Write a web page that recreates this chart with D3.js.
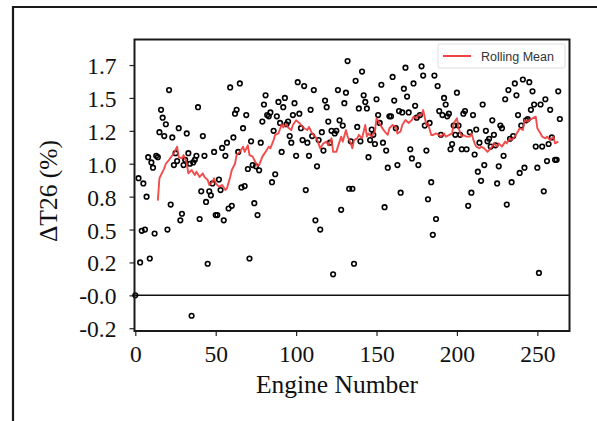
<!DOCTYPE html>
<html><head><meta charset="utf-8">
<script src="https://cdn.jsdelivr.net/npm/d3@7"></script>
<style>html,body{margin:0;padding:0;background:#fff;}svg{display:block;}</style>
</head><body>
<script>
const engines = [0,2,3,4,5,6,7,8,9,10,11,12,13,14,15,16,17,18,19,20,21,22,23,24,25,26,27,28,29,30,31,32,33,34,35,36,37,38,39,40,41,42,43,44,45,46,47,48,49,50,51,52,53,54,55,56,57,58,59,60,61,62,63,64,65,66,67,68,69,70,71,72,73,74,75,76,77,78,79,80,81,82,83,84,85,86,87,88,89,90,91,92,93,94,95,96,97,98,99,100,101,102,103,104,105,106,107,108,109,110,111,112,113,114,115,116,117,118,119,120,121,122,123,124,125,126,127,128,129,130,131,132,133,134,135,136,137,138,139,140,141,142,143,144,145,146,147,148,149,150,151,152,153,154,155,156,157,158,159,160,161,162,163,164,165,166,167,168,169,170,171,172,173,174,175,176,177,178,179,180,181,182,183,184,185,186,187,188,189,190,191,192,193,194,195,196,197,198,199,200,201,202,203,204,205,206,207,208,209,210,211,212,213,214,215,216,217,218,219,220,221,222,223,224,225,226,227,228,229,230,231,232,233,234,235,236,237,238,239,240,241,242,243,244,245,246,247,248,249,250,251,252,253,254,255,256,257,258,259,261,262,263,264];
const deltaT26 = [0.0,0.89,0.25,0.49,0.85,0.50,0.75,1.05,0.28,1.01,0.97,0.47,1.06,1.05,1.24,1.41,1.35,1.21,1.30,0.50,1.56,0.69,1.20,0.99,1.08,1.02,1.27,0.57,0.62,0.99,1.03,1.23,1.08,1.00,-0.155,1.01,1.03,1.06,1.43,0.58,0.79,1.21,1.06,0.71,0.24,0.79,0.76,0.85,1.09,0.61,0.61,0.88,0.80,1.12,0.57,1.06,1.16,0.66,1.58,0.68,1.20,1.38,1.41,1.09,1.61,0.82,1.27,0.83,1.37,0.96,0.28,1.17,0.99,0.70,0.98,0.61,0.95,1.16,1.32,1.45,1.52,1.37,1.36,1.39,0.86,1.25,0.92,1.36,1.47,1.31,1.09,1.43,1.50,1.30,1.32,1.21,1.16,1.37,1.46,1.06,1.62,1.38,1.27,1.18,1.59,0.80,1.16,1.06,1.41,1.21,1.56,0.57,0.98,1.18,0.50,1.24,1.10,1.48,1.43,1.32,1.16,1.25,0.16,1.23,1.25,1.56,1.33,0.65,1.29,1.46,1.54,1.78,0.81,1.17,0.81,0.24,1.63,1.28,1.42,1.17,1.70,1.52,1.47,1.42,1.05,1.18,1.26,1.22,1.15,1.49,1.37,1.31,1.60,1.16,0.67,1.10,0.97,1.36,1.36,1.66,1.48,1.27,0.99,1.40,0.78,1.39,1.57,1.73,1.51,1.39,1.11,1.04,1.61,1.44,1.35,0.99,1.37,1.74,1.67,1.29,1.10,0.73,1.31,0.86,0.46,1.67,0.58,1.59,1.40,1.22,1.37,1.50,1.45,1.36,1.38,1.11,1.15,1.29,1.22,1.54,1.29,1.22,1.11,1.38,1.40,1.11,0.68,1.24,0.78,1.37,1.07,1.26,0.94,1.16,0.87,1.45,0.99,1.25,1.17,1.19,1.13,1.33,1.22,1.14,0.85,0.98,1.29,1.27,1.06,1.49,0.69,1.56,1.19,0.86,1.21,1.61,1.52,1.37,0.93,1.29,1.64,0.97,1.33,1.34,1.62,1.41,1.55,1.45,1.13,0.97,0.17,1.45,1.13,0.79,1.49,1.02,1.15,1.41,1.20,1.03,1.03,1.55,1.34];

const rollEngines = [14,15,18,19,21,24,26,27,29,30,32,33,35,37,38,40,42,43,45,46,48,49,50,52,54,56,57,59,60,62,63,65,67,68,70,71,73,74,76,77,79,81,83,84,86,87,89,91,92,94,95,97,98,100,102,103,105,107,108,110,112,113,115,117,119,120,122,123,125,126,128,129,131,132,134,135,136,138,139,141,143,144,145,147,149,150,152,153,155,157,158,160,162,163,165,166,168,170,172,173,175,176,178,179,181,182,184,185,187,189,190,192,193,195,197,198,200,201,203,204,206,208,209,211,212,214,215,217,219,220,222,223,225,226,228,230,231,233,234,236,238,239,241,242,244,245,247,249,250,252,253,255,256,258,260,261,263];
const rollMean = [0.72,0.89,0.965,1.0,1.03,1.08,1.13,1.05,1.04,1.066,1.0,0.927,0.952,0.914,0.94,0.90,0.927,0.90,0.876,0.838,0.864,0.889,0.851,0.826,0.838,0.80,0.813,0.90,0.952,1.0,1.066,1.09,1.13,1.09,1.14,1.066,1.054,1.028,0.983,0.99,1.054,1.09,1.13,1.117,1.18,1.22,1.23,1.30,1.276,1.30,1.276,1.256,1.294,1.33,1.31,1.294,1.27,1.256,1.28,1.23,1.206,1.185,1.117,1.155,1.168,1.14,1.193,1.09,1.09,1.13,1.206,1.168,1.256,1.206,1.155,1.117,1.18,1.193,1.22,1.193,1.294,1.206,1.23,1.206,1.246,1.345,1.307,1.282,1.246,1.22,1.27,1.294,1.28,1.23,1.246,1.294,1.332,1.31,1.332,1.358,1.345,1.37,1.37,1.408,1.294,1.307,1.218,1.218,1.23,1.218,1.206,1.23,1.206,1.218,1.23,1.307,1.345,1.27,1.206,1.218,1.206,1.206,1.23,1.155,1.13,1.117,1.13,1.117,1.09,1.104,1.13,1.155,1.13,1.155,1.13,1.168,1.155,1.193,1.18,1.206,1.246,1.27,1.256,1.332,1.32,1.332,1.345,1.358,1.27,1.23,1.206,1.193,1.206,1.18,1.206,1.155,1.168];

const xTicks = [0,50,100,150,200,250];
const yTicks = [1.75,1.5,1.25,1.0,0.75,0.5,0.25,0,-0.25];
const yTickLabels = ["1.7","1.5","1.2","1.0","0.8","0.5","0.2","-0.0","-0.2"];
const xTitle = "Engine Number";
const yTitle = "ΔT26 (%)";
const legendLabel = "Rolling Mean";

const W = 597, H = 421;
const L = 134.5, R = 569.5, T = 39.5, B = 331;
const svg = d3.select("body").append("svg").attr("width", W).attr("height", H);

// outer frame
svg.append("path").attr("d", `M13,${H} L13,7 L${W},7`).attr("fill","none").attr("stroke","#1a1a1a").attr("stroke-width",2.2);

const x = d3.scaleLinear().domain([-0.5, 270]).range([L, R]);
const y = d3.scaleLinear().domain([-0.271, 1.944]).range([B, T]);

const serif = "'Liberation Serif','Times New Roman',serif";

// axes
const xAxis = svg.append("g").attr("transform", `translate(0,${B})`)
  .call(d3.axisBottom(x).tickValues(xTicks).tickSize(5).tickPadding(9).tickFormat(d3.format("d")));
const yAxis = svg.append("g").attr("transform", `translate(${L},0)`)
  .call(d3.axisLeft(y).tickValues(yTicks).tickSize(5).tickPadding(13).tickFormat((d,i)=>yTickLabels[i]));
[xAxis, yAxis].forEach(g => {
  g.select(".domain").remove();
  g.selectAll(".tick line").attr("stroke","#222").attr("stroke-width",1.2);
  g.selectAll(".tick text").attr("font-family", serif).attr("font-size", 23.5).attr("fill","#111");
});
yAxis.selectAll(".tick text").attr("dy","0.36em");

// zero line
svg.append("line").attr("x1", L).attr("x2", R).attr("y1", y(0)).attr("y2", y(0))
  .attr("stroke","#111").attr("stroke-width",1.5);

// points
const pts = engines.map((e,i)=>({e, v: deltaT26[i]}));
svg.append("g").selectAll("circle").data(pts).join("circle")
  .attr("cx", d=>x(d.e)).attr("cy", d=>y(d.v)).attr("r", 2.3)
  .attr("fill","none").attr("stroke","#000").attr("stroke-width",1.6);

// rolling mean
const rm = rollEngines.map((e,i)=>[e, rollMean[i]]);
svg.append("path").datum(rm)
  .attr("d", d3.line().x(d=>x(d[0])).y(d=>y(d[1])))
  .attr("fill","none").attr("stroke","#f03a3a").attr("stroke-width",1.9).attr("stroke-opacity",0.9)
  .attr("stroke-linejoin","round");

// plot frame
svg.append("rect").attr("x", L).attr("y", T).attr("width", R-L).attr("height", B-T)
  .attr("fill","none").attr("stroke","#1a1a1a").attr("stroke-width",2);

// legend
const lg = svg.append("g");
lg.append("rect").attr("x",438).attr("y",44).attr("width",127).attr("height",24).attr("rx",2)
  .attr("fill","#fff").attr("fill-opacity",0.85).attr("stroke","#ddd").attr("stroke-width",1);
lg.append("line").attr("x1",443).attr("x2",471).attr("y1",56).attr("y2",56)
  .attr("stroke","#f03a3a").attr("stroke-width",1.9);
lg.append("text").attr("x",481).attr("y",60.5).text(legendLabel)
  .attr("font-family","'Liberation Sans',Arial,sans-serif").attr("font-size",12.5).attr("fill","#333");

// titles
svg.append("text").attr("x", (L+R)/2 - 15).attr("y", 393).attr("text-anchor","middle")
  .attr("font-family", serif).attr("font-size", 25.5).attr("fill","#111").text(xTitle);
svg.append("text").attr("transform", "translate(57,191) rotate(-90)").attr("text-anchor","middle")
  .attr("font-family", serif).attr("font-size", 25.5).attr("fill","#111").text(yTitle);
</script>
</body></html>
